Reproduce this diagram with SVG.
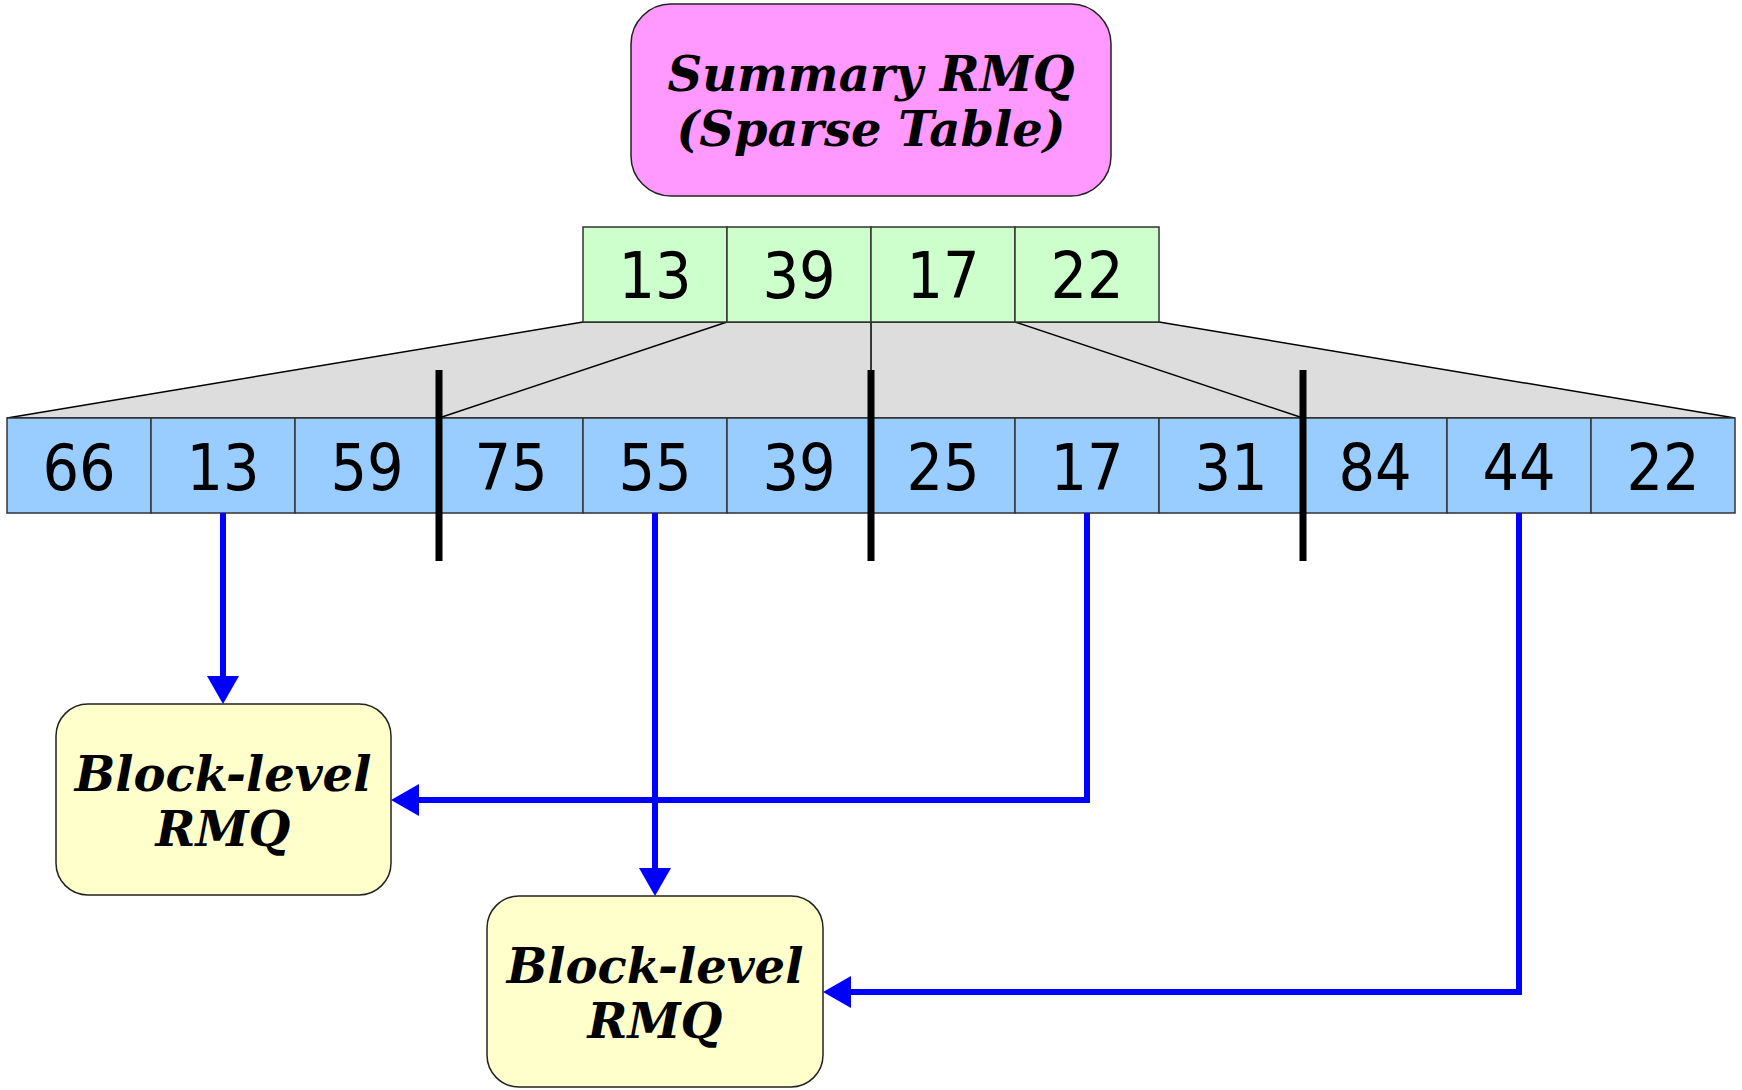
<svg xmlns="http://www.w3.org/2000/svg" width="1742" height="1090" viewBox="0 0 1742 1090">
<defs>
<style>
.box{stroke:#222;stroke-width:1.5}
.sum{fill:#ff99ff}
.blk{fill:#ffffcc}
.gc{fill:#ccffcc;stroke:#333;stroke-width:1.5}
.bc{fill:#99ccff;stroke:#333;stroke-width:1.5}
.lbl{font-family:"DejaVu Serif",serif;font-weight:bold;font-style:italic;font-size:48px;text-anchor:middle;fill:#000}
.num{font-family:"DejaVu Sans Condensed","DejaVu Sans",sans-serif;font-stretch:condensed;font-size:64px;text-anchor:middle;fill:#000}
.fan{fill:none;stroke:#000;stroke-width:1.5}
.bar{stroke:#000;stroke-width:7}
.arr{fill:none;stroke:#0000ff;stroke-width:6;marker-end:url(#ah)}
</style>
<marker id="ah" viewBox="0 0 28 32" refX="18" refY="16" markerWidth="28" markerHeight="32" markerUnits="userSpaceOnUse" orient="auto">
<path d="M0,0 L28,16 L0,32 z" fill="#0000ff"/>
</marker>
</defs>

<g id="fan">
<polygon points="583,322 1159,322 1735,418 7,418" fill="#dddddd" stroke="#000" stroke-width="1.5"/>
<path class="fan" d="M727,322 L439,418 M871,322 L871,418 M1015,322 L1303,418"/>
</g>

<g id="summary">
<rect class="box sum" x="631" y="4" width="480" height="192" rx="40" ry="40"/>
<text class="lbl" x="871" y="91">Summary RMQ</text>
<text class="lbl" x="871" y="146">(Sparse Table)</text>
</g>

<g id="summary-array">
<rect class="gc" x="583" y="227" width="144" height="95"/>
<rect class="gc" x="727" y="227" width="144" height="95"/>
<rect class="gc" x="871" y="227" width="144" height="95"/>
<rect class="gc" x="1015" y="227" width="144" height="95"/>
<text class="num" x="655" y="298">13</text>
<text class="num" x="799" y="298">39</text>
<text class="num" x="943" y="298">17</text>
<text class="num" x="1087" y="298">22</text>
</g>

<g id="array">
<rect class="bc" x="7" y="418" width="144" height="95"/>
<rect class="bc" x="151" y="418" width="144" height="95"/>
<rect class="bc" x="295" y="418" width="144" height="95"/>
<rect class="bc" x="439" y="418" width="144" height="95"/>
<rect class="bc" x="583" y="418" width="144" height="95"/>
<rect class="bc" x="727" y="418" width="144" height="95"/>
<rect class="bc" x="871" y="418" width="144" height="95"/>
<rect class="bc" x="1015" y="418" width="144" height="95"/>
<rect class="bc" x="1159" y="418" width="144" height="95"/>
<rect class="bc" x="1303" y="418" width="144" height="95"/>
<rect class="bc" x="1447" y="418" width="144" height="95"/>
<rect class="bc" x="1591" y="418" width="144" height="95"/>
<text class="num" x="79" y="490">66</text>
<text class="num" x="223" y="490">13</text>
<text class="num" x="367" y="490">59</text>
<text class="num" x="511" y="490">75</text>
<text class="num" x="655" y="490">55</text>
<text class="num" x="799" y="490">39</text>
<text class="num" x="943" y="490">25</text>
<text class="num" x="1087" y="490">17</text>
<text class="num" x="1231" y="490">31</text>
<text class="num" x="1375" y="490">84</text>
<text class="num" x="1519" y="490">44</text>
<text class="num" x="1663" y="490">22</text>
</g>

<g id="dividers">
<line class="bar" x1="439" y1="370" x2="439" y2="561"/>
<line class="bar" x1="871" y1="370" x2="871" y2="561"/>
<line class="bar" x1="1303" y1="370" x2="1303" y2="561"/>
</g>

<g id="block1">
<rect class="box blk" x="56" y="704" width="335" height="191" rx="32" ry="32"/>
<text class="lbl" x="223" y="791">Block-level</text>
<text class="lbl" x="223" y="846">RMQ</text>
</g>

<g id="block2">
<rect class="box blk" x="487" y="896" width="336" height="191" rx="32" ry="32"/>
<text class="lbl" x="655" y="983">Block-level</text>
<text class="lbl" x="655" y="1038">RMQ</text>
</g>

<g id="connectors">
<path class="arr" d="M223,513 L223,694"/>
<path class="arr" d="M655,513 L655,886"/>
<path class="arr" d="M1087,513 L1087,800 L401,800"/>
<path class="arr" d="M1519,513 L1519,992 L833,992"/>
</g>
</svg>
